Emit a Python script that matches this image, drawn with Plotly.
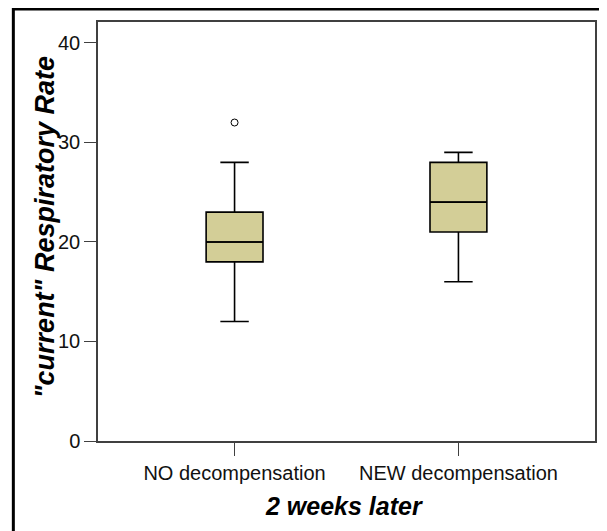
import plotly.graph_objects as go

categories = ["NO decompensation", "NEW decompensation"]
q1 = [18, 21]
median = [20, 24]
q3 = [23, 28]
lower_whisker = [12, 16]
upper_whisker = [28, 29]
outlier_cat = ["NO decompensation"]
outlier_val = [32]

y_ticks = [0, 10, 20, 30, 40]
y_title = "\"current\" Respiratory Rate"
x_title = "2 weeks later"

# page body has an 8px margin; figure is sized to fill the rest of the window
OFF = 8
W, H = 607 - OFF, 531 - OFF
PL, PT, PR, PB = 98, 22, 597, 441          # plot area in page pixels
L, T = PL - OFF, PT - OFF
R, B = 607 - PR, 531 - PB
pw, ph = PR - PL, PB - PT


def px(x):
    return (x - PL) / pw


def py(y):
    return (PB - y) / ph


fig = go.Figure()
fig.add_trace(go.Box(
    x=categories, q1=q1, median=median, q3=q3,
    lowerfence=lower_whisker, upperfence=upper_whisker,
    fillcolor="#D3CE97", line=dict(color="black", width=1.6),
    width=0.254, whiskerwidth=0.5, boxpoints=False, showlegend=False,
    hoverinfo="y",
))
# thicker median bar drawn over the box
fig.add_trace(go.Box(
    x=categories, q1=median, median=median, q3=median,
    lowerfence=median, upperfence=median,
    fillcolor="rgba(0,0,0,0)", line=dict(color="black", width=1.4),
    width=0.254, whiskerwidth=0, boxpoints=False, showlegend=False,
    hoverinfo="skip",
))
fig.add_trace(go.Scatter(
    x=outlier_cat, y=outlier_val, mode="markers",
    marker=dict(symbol="circle-open", size=7, color="black", line=dict(width=1)),
    showlegend=False,
))

font = "Liberation Sans, Arial, sans-serif"
fig.update_layout(
    width=W, height=H,
    margin=dict(l=L, r=R, t=T, b=B, pad=0),
    paper_bgcolor="white", plot_bgcolor="white",
    boxmode="overlay",
    font=dict(family=font, color="black"),
    xaxis=dict(
        type="category", range=[-0.61, 1.61],
        showline=True, linecolor="#404040", linewidth=1.5, mirror=True,
        ticks="outside", ticklen=13, tickwidth=1, tickcolor="#404040",
        tickfont=dict(size=20, family=font, color="#111"),
        showgrid=False, zeroline=False,
    ),
    yaxis=dict(
        range=[0, 42.1], tickvals=y_ticks,
        showline=True, linecolor="#404040", linewidth=1.5, mirror=True,
        ticks="outside", ticklen=12, tickwidth=1.3, tickcolor="#404040",
        tickfont=dict(size=20, family=font, color="#111"),
        showgrid=False, zeroline=False,
    ),
    annotations=[
        dict(text="<b><i>" + y_title + "</i></b>", textangle=-90,
             xref="paper", yref="paper",
             x=px(45), y=py(227),
             xanchor="center", yanchor="middle", showarrow=False,
             font=dict(size=27, family=font, color="black")),
        dict(text="<b><i>" + x_title + "</i></b>",
             xref="paper", yref="paper",
             x=px(345), y=py(506),
             xanchor="center", yanchor="middle", showarrow=False,
             font=dict(size=25, family=font, color="black")),
    ],
    shapes=[
        dict(type="rect", xref="paper", yref="paper",
             x0=px(13), x1=px(625),
             y0=py(545), y1=py(9),
             line=dict(color="black", width=3), fillcolor="rgba(0,0,0,0)",
             layer="above"),
    ],
)

fig.write_html("out.html")
